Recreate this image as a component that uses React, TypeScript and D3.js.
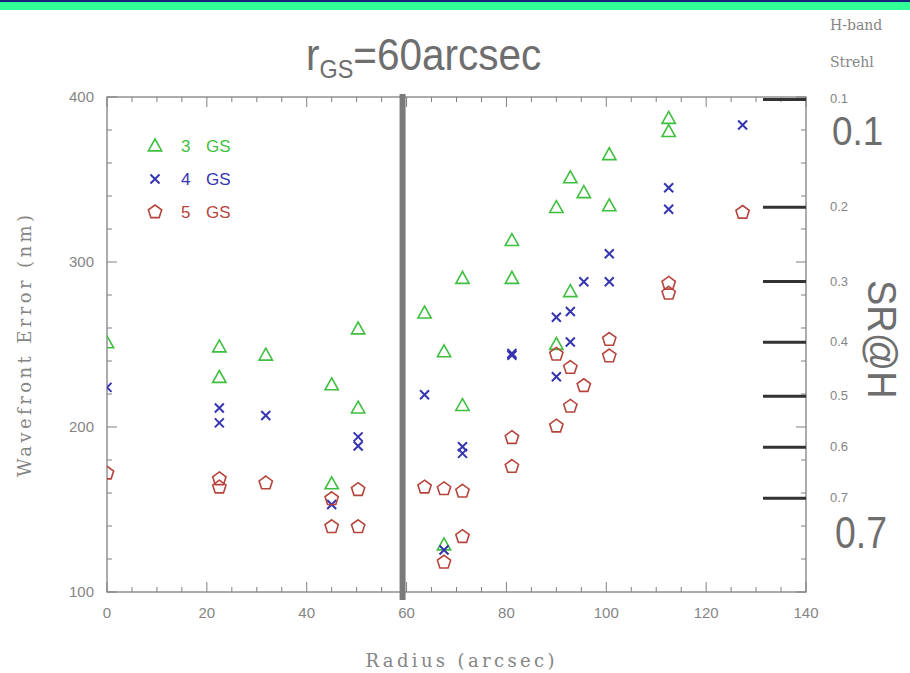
import React from "react";
import * as d3 from "d3";

// ---- data ----
const radii3 = [0, 22.5, 22.5, 31.8, 45, 45, 50.3, 50.3, 63.6, 67.5, 67.5, 71.2, 71.2, 81.1, 81.1, 90, 90, 92.8, 92.8, 95.5, 100.6, 100.6, 112.5, 112.5];
const wfe3 = [251, 248.5, 230, 243.5, 225.5, 165.5, 259.4, 211.5, 269, 245.5, 128.5, 213, 290, 290, 313, 333, 250, 351, 282, 342, 365, 334, 387, 379];

const radii4 = [0, 22.5, 22.5, 31.8, 45, 50.3, 50.3, 63.6, 67.5, 71.2, 71.2, 81.1, 81.1, 90, 90, 92.8, 92.8, 95.5, 100.6, 100.6, 112.5, 112.5, 127.3];
const wfe4 = [224, 211.5, 202.5, 207, 153, 194, 188.5, 219.5, 125.5, 188, 184, 244.5, 243.5, 266.5, 230.5, 270, 251.5, 288, 288, 305, 345, 332, 383];

const radii5 = [0, 22.5, 22.5, 31.8, 45, 45, 50.3, 50.3, 63.6, 67.5, 67.5, 71.2, 71.2, 81.1, 81.1, 90, 90, 92.8, 92.8, 95.5, 100.6, 100.6, 112.5, 112.5, 127.3];
const wfe5 = [172, 168.5, 163.5, 166, 156.5, 139.5, 162, 139.5, 163.5, 162.5, 118, 161, 133.5, 193.5, 176, 244, 200.5, 236, 212.5, 225, 253, 243, 287, 281, 330];

const seriesNames = ["3 GS", "4 GS", "5 GS"];
const strehlTicks = [0.1, 0.2, 0.3, 0.4, 0.5, 0.6, 0.7];
const xDomain = [0, 140];
const yDomain = [100, 400];
const xMajor = [0, 20, 40, 60, 80, 100, 120, 140];
const yMajor = [100, 200, 300, 400];
const gsRadius = 60;
const lambdaNm = 1650;

const W = 910, H = 673;
const M = { left: 107, right: 806, top: 97, bottom: 592 };

const GREEN = "#3fbf3f";
const BLUE = "#3535b0";
const RED = "#b5443c";
const AX = "#808080";
const TXT = "#858585";
const BIG = "#6e6e6e";

const x = d3.scaleLinear().domain(xDomain).range([M.left, M.right]);
const y = d3.scaleLinear().domain(yDomain).range([M.bottom, M.top]);
const strehlToNm = (sr: number) => (lambdaNm / (2 * Math.PI)) * Math.sqrt(-Math.log(sr));

const triPath = (() => {
  const s = 7;
  return `M0,${-s}L${s * 0.95},${s * 0.7}L${-s * 0.95},${s * 0.7}Z`;
})();
const crossPath = "M-4.5,-4.5L4.5,4.5M-4.5,4.5L4.5,-4.5";
const pentPath = (() => {
  const r = 7;
  const pts = d3.range(5).map((i) => {
    const a = -Math.PI / 2 + (i * 2 * Math.PI) / 5;
    return [r * Math.cos(a), r * Math.sin(a)];
  });
  return "M" + pts.map((p) => p.join(",")).join("L") + "Z";
})();

const series = [
  { name: seriesNames[0], xs: radii3, ys: wfe3, color: GREEN, path: triPath, sw: 1.6 },
  { name: seriesNames[1], xs: radii4, ys: wfe4, color: BLUE, path: crossPath, sw: 2 },
  { name: seriesNames[2], xs: radii5, ys: wfe5, color: RED, path: pentPath, sw: 1.6 },
];

export default function App() {
  const xMinor = x.ticks(28);
  const yMinor = y.ticks(15);
  const tickFont = "'Liberation Sans', Arial, sans-serif";
  const serif = "'DejaVu Serif', 'Liberation Serif', serif";
  const big = "'Liberation Sans', Arial, sans-serif";
  return (
    <svg width={W} height={H} style={{ position: "absolute", left: 0, top: 0, background: "#fff" }}>
      <defs>
        <clipPath id="plotclip">
          <rect x={M.left} y={M.top} width={M.right - M.left} height={M.bottom - M.top} />
        </clipPath>
      </defs>
      {/* top banner */}
      <rect x={0} y={0} width={W} height={10} fill="#33ff99" />
      <rect x={0} y={0} width={W} height={2} fill="#1a237e" />

      {/* title */}
      <text transform="translate(306,70) scale(0.9,1)" fill={BIG} fontFamily={big} fontSize={45}>
        r<tspan fontSize={26} dy={8}>GS</tspan><tspan dy={-8}>=60arcsec</tspan>
      </text>

      {/* frame */}
      <rect x={M.left} y={M.top} width={M.right - M.left} height={M.bottom - M.top} fill="none" stroke={AX} strokeWidth={1.3} />
      {xMinor.map((t) => {
        const major = xMajor.includes(t);
        const len = major ? 10 : 5;
        return (
          <g key={"xt" + t}>
            <line x1={x(t)} x2={x(t)} y1={M.bottom} y2={M.bottom - len} stroke={AX} strokeWidth={1} />
            <line x1={x(t)} x2={x(t)} y1={M.top} y2={M.top + len} stroke={AX} strokeWidth={1} />
          </g>
        );
      })}
      {yMinor.map((t) => {
        const major = yMajor.includes(t);
        const len = major ? 10 : 5;
        return (
          <g key={"yt" + t}>
            <line x1={M.left} x2={M.left + len} y1={y(t)} y2={y(t)} stroke={AX} strokeWidth={1} />
            <line x1={M.right} x2={M.right - len} y1={y(t)} y2={y(t)} stroke={AX} strokeWidth={1} />
          </g>
        );
      })}
      {xMajor.map((t) => (
        <text key={"xl" + t} x={x(t)} y={618} textAnchor="middle" fill={TXT} fontFamily={tickFont} fontSize={15}>
          {t}
        </text>
      ))}
      {yMajor.map((t) => (
        <text key={"yl" + t} x={94} y={y(t) + 5} textAnchor="end" fill={TXT} fontFamily={tickFont} fontSize={15}>
          {t}
        </text>
      ))}
      <text x={460} y={667} textAnchor="middle" fill={TXT} fontFamily={serif} fontSize={18} textLength={189} lengthAdjust="spacing">
        Radius (arcsec)
      </text>
      <text transform={`translate(31,346) rotate(-90)`} textAnchor="middle" fill={TXT} fontFamily={serif} fontSize={18} textLength={262} lengthAdjust="spacing">
        Wavefront Error (nm)
      </text>

      {/* Strehl scale */}
      <text x={830} y={30} fill={TXT} fontFamily={serif} fontSize={14}>H-band</text>
      <text x={830} y={67} fill={TXT} fontFamily={serif} fontSize={14}>Strehl</text>
      {strehlTicks.map((s) => {
        const yy = y(strehlToNm(s));
        return (
          <g key={"sr" + s}>
            <line x1={763} x2={M.right} y1={yy} y2={yy} stroke="#333" strokeWidth={3} />
            <text x={830} y={yy + 4} fill={TXT} fontFamily={tickFont} fontSize={13}>{s}</text>
          </g>
        );
      })}
      <text transform="translate(832,145) scale(0.9,1)" fill={BIG} fontFamily={big} fontSize={41}>0.1</text>
      <text transform="translate(835,548) scale(0.85,1)" fill={BIG} fontFamily={big} fontSize={44}>0.7</text>
      <text transform="translate(868,280) rotate(90) scale(0.95,1)" fill={BIG} fontFamily={big} fontSize={40}>SR@H</text>

      {/* legend */}
      {series.map((s, i) => (
        <g key={"lg" + i} transform={`translate(0,${146 + i * 33})`}>
          <path d={s.path} transform="translate(155,0)" fill="none" stroke={s.color} strokeWidth={s.sw} />
          <text x={181} y={6} fill={s.color} fontFamily={tickFont} fontSize={17}>{s.name.split(" ")[0]}</text>
          <text x={206} y={6} fill={s.color} fontFamily={tickFont} fontSize={17}>{s.name.split(" ")[1]}</text>
        </g>
      ))}

      {/* data */}
      <g clipPath="url(#plotclip)">
        {series.map((s, i) => (
          <g key={"s" + i}>
            {s.xs.map((r, j) => (
              <path key={j} d={s.path} transform={`translate(${x(r)},${y(s.ys[j])})`} fill="none" stroke={s.color} strokeWidth={s.sw} />
            ))}
          </g>
        ))}
      </g>

      {/* r_GS marker */}
      <line x1={x(gsRadius) - 4} x2={x(gsRadius) - 4} y1={94} y2={600} stroke="#7a7a7a" strokeWidth={6} />
    </svg>
  );
}
